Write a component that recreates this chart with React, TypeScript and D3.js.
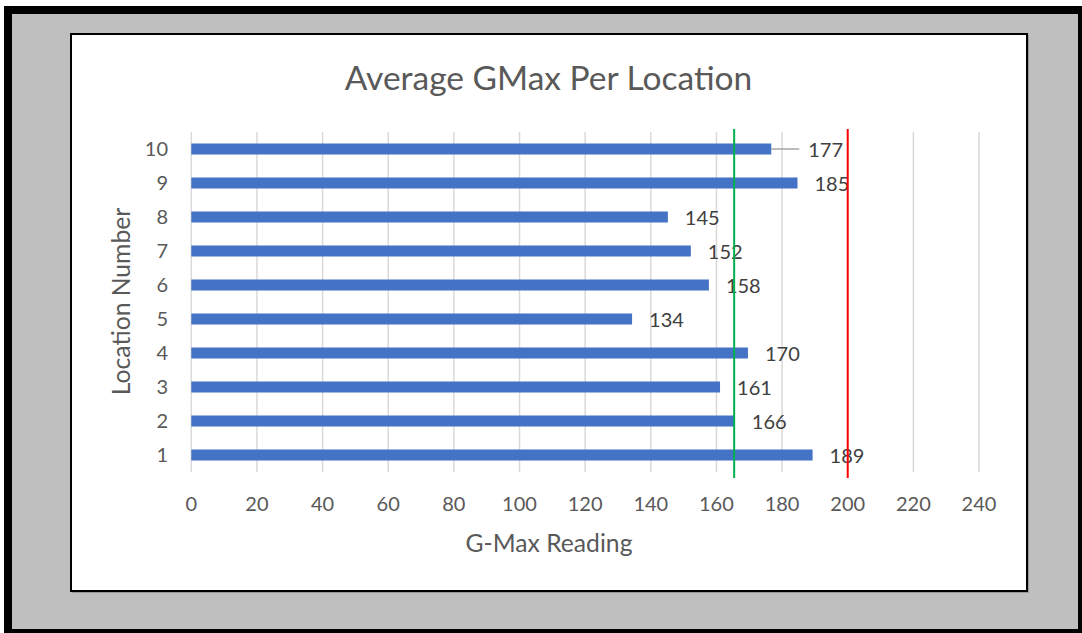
import React from "react";
import * as d3 from "d3";

const locations = ["1", "2", "3", "4", "5", "6", "7", "8", "9", "10"];
const gmaxValues = [189.3, 165.6, 161.1, 169.6, 134.3, 157.7, 152.2, 145.2, 184.7, 176.7];
const xTicks = [0, 20, 40, 60, 80, 100, 120, 140, 160, 180, 200, 220, 240];
const averageLine = 165.4;
const limitLine = 200;
const chartTitle = "Average GMax Per Location";
const xTitle = "G-Max Reading";
const yTitle = "Location Number";

const W = 1082;
const H = 633;
const FONT = "Lato, 'Open Sans', sans-serif";

export default function App() {
  const left = 191.3;
  const right = 979;
  const top = 132;
  const bottom = 472;
  const x = d3.scaleLinear().domain([0, 240]).range([left, right]);
  const y = d3
    .scaleBand<string>()
    .domain(locations)
    .range([bottom, top])
    .paddingInner(0.676)
    .paddingOuter(0.338);
  const bw = y.bandwidth();

  return (
    <svg
      width={W}
      height={H}
      style={{ position: "absolute", left: 0, top: 0 }}
      fontFamily={FONT}
    >
      <rect x={4} y={6} width={W - 4} height={H - 6} fill="#000" />
      <rect x={12} y={14} width={1066} height={615} fill="#bfbfbf" />
      <rect x={72} y={35} width={957} height={558} fill="#7f7f7f" opacity={0.6} />
      <rect x={71} y={34} width={956} height={557} fill="#fff" stroke="#000" strokeWidth={2} />

      <text x={548.5} y={90} textAnchor="middle" fontSize={33.5} fill="#595959">
        {chartTitle}
      </text>

      {xTicks.map((t) => (
        <g key={t}>
          <line x1={x(t)} x2={x(t)} y1={top} y2={bottom} stroke="#d9d9d9" strokeWidth={1.5} />
          <text x={x(t)} y={511} textAnchor="middle" fontSize={20} fill="#595959">
            {t}
          </text>
        </g>
      ))}

      {locations.map((loc, i) => {
        const v = gmaxValues[i];
        const cy = (y(loc) as number) + bw / 2;
        const moved = loc === "10";
        const lx = moved ? x(v) + 37 : x(v) + 17;
        return (
          <g key={loc}>
            <rect x={x(0)} y={y(loc)} width={x(v) - x(0)} height={bw} fill="#4472c4" />
            <text x={168} y={cy} dy="0.35em" textAnchor="end" fontSize={20} fill="#595959">
              {loc}
            </text>
            {moved && (
              <line x1={x(v)} x2={lx - 9} y1={cy} y2={cy} stroke="#a6a6a6" strokeWidth={1.5} />
            )}
            <text x={lx} y={cy + 1} dy="0.35em" fontSize={20} fill="#404040">
              {Math.round(v)}
            </text>
          </g>
        );
      })}

      <line x1={x(averageLine)} x2={x(averageLine)} y1={129} y2={478} stroke="#00b050" strokeWidth={2} />
      <line x1={x(limitLine)} x2={x(limitLine)} y1={129} y2={478} stroke="#ff0000" strokeWidth={2} />

      <text x={549} y={552} textAnchor="middle" fontSize={24.7} fill="#595959">
        {xTitle}
      </text>
      <text
        transform="translate(130,301.5) rotate(-90)"
        textAnchor="middle"
        fontSize={24.7}
        fill="#595959"
      >
        {yTitle}
      </text>
    </svg>
  );
}
